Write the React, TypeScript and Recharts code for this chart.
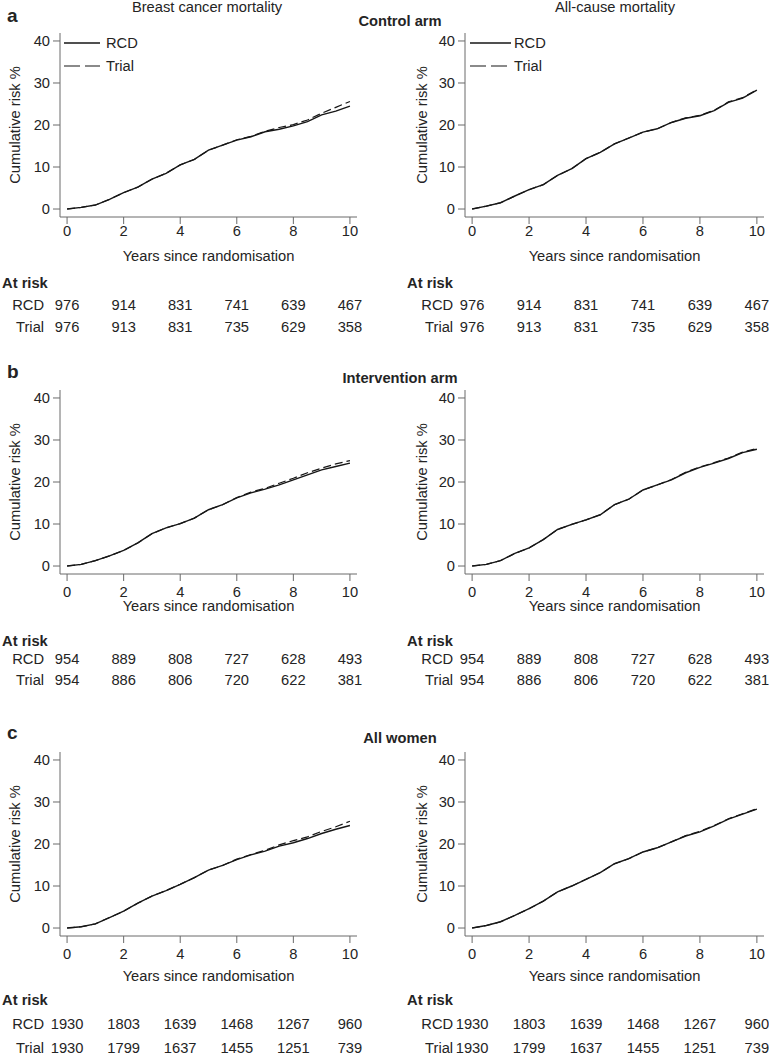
import React from "react";
import { LineChart, Line, XAxis, YAxis, Label } from "recharts";

const FONT = '"Liberation Sans", Arial, Helvetica, sans-serif';
const TEXT = "#242424";
const AXIS = "#6a6a6a";
const LINE = "#161616";
const FS = 14.7;

// time grid (years since randomisation)
const years = [0, 0.5, 1, 1.5, 2, 2.5, 3, 3.5, 4, 4.5, 5, 5.5, 6, 6.5, 7, 7.5, 8, 8.5, 9, 9.5, 10];

// a: Control arm
const ctrlBreastRCD = [0, 0.4, 0.95, 2.3, 3.9, 5.2, 7.1, 8.5, 10.5, 11.8, 14.0, 15.2, 16.4, 17.2, 18.4, 19.0, 19.8, 20.8, 22.4, 23.3, 24.5];
const ctrlBreastTrial = [0, 0.4, 0.95, 2.3, 3.9, 5.2, 7.1, 8.5, 10.5, 11.8, 14.0, 15.2, 16.5, 17.3, 18.5, 19.4, 20.1, 21.2, 22.8, 24.2, 25.6];
const ctrlAllRCD = [0, 0.7, 1.5, 3.1, 4.6, 5.8, 8.0, 9.6, 12.0, 13.5, 15.5, 16.9, 18.3, 19.1, 20.6, 21.6, 22.2, 23.4, 25.4, 26.4, 28.3];
const ctrlAllTrial = [0, 0.7, 1.5, 3.1, 4.6, 5.8, 8.0, 9.6, 12.0, 13.5, 15.5, 16.9, 18.3, 19.1, 20.6, 21.7, 22.3, 23.5, 25.5, 26.5, 28.4];

// b: Intervention arm
const intBreastRCD = [0, 0.4, 1.3, 2.4, 3.7, 5.5, 7.7, 9.1, 10.1, 11.4, 13.4, 14.6, 16.2, 17.4, 18.3, 19.3, 20.5, 21.7, 22.9, 23.7, 24.5];
const intBreastTrial = [0, 0.4, 1.3, 2.4, 3.7, 5.5, 7.7, 9.1, 10.1, 11.4, 13.4, 14.6, 16.3, 17.6, 18.5, 19.7, 20.9, 22.2, 23.3, 24.3, 25.1];
const intAllRCD = [0, 0.4, 1.3, 3.0, 4.3, 6.3, 8.7, 9.9, 11.0, 12.2, 14.6, 15.9, 18.1, 19.3, 20.5, 22.2, 23.5, 24.5, 25.6, 27.0, 27.8];
const intAllTrial = [0, 0.4, 1.3, 3.0, 4.3, 6.3, 8.7, 9.9, 11.0, 12.2, 14.6, 15.9, 18.1, 19.3, 20.6, 22.3, 23.6, 24.6, 25.7, 27.1, 28.0];

// c: All women
const allBreastRCD = [0, 0.3, 1.0, 2.5, 4.0, 5.9, 7.6, 8.9, 10.4, 12.0, 13.8, 14.9, 16.3, 17.4, 18.3, 19.5, 20.3, 21.3, 22.5, 23.5, 24.4];
const allBreastTrial = [0, 0.3, 1.0, 2.5, 4.0, 5.9, 7.6, 8.9, 10.4, 12.0, 13.8, 14.9, 16.4, 17.5, 18.5, 19.8, 20.8, 21.7, 23.0, 24.1, 25.4];
const allAllRCD = [0, 0.6, 1.5, 3.0, 4.6, 6.4, 8.6, 10.0, 11.6, 13.2, 15.3, 16.5, 18.1, 19.1, 20.5, 21.9, 22.9, 24.3, 25.9, 27.1, 28.3];
const allAllTrial = [0, 0.6, 1.5, 3.0, 4.6, 6.4, 8.6, 10.0, 11.6, 13.2, 15.3, 16.5, 18.1, 19.1, 20.5, 22.0, 23.0, 24.4, 26.0, 27.2, 28.4];

// at-risk tables
const atRiskYears = [0, 2, 4, 6, 8, 10];
const ctrlRCDAtRisk = [976, 914, 831, 741, 639, 467];
const ctrlTrialAtRisk = [976, 913, 831, 735, 629, 358];
const intRCDAtRisk = [954, 889, 808, 727, 628, 493];
const intTrialAtRisk = [954, 886, 806, 720, 622, 381];
const allRCDAtRisk = [1930, 1803, 1639, 1468, 1267, 960];
const allTrialAtRisk = [1930, 1799, 1637, 1455, 1251, 739];

const yTicks = [0, 10, 20, 30, 40];

const PLOT_H = 184;

const rows = [
  { chartTop: 0, marginTop: 33, height: 345, tickOff: 14, yearsOff: 39, atRiskOff: 66, rcdOff: 88, trialOff: 110 },
  { chartTop: 350, marginTop: 40, height: 350, tickOff: 18, yearsOff: 32, atRiskOff: 67, rcdOff: 85, trialOff: 106 },
  { chartTop: 705, marginTop: 47, height: 352, tickOff: 18, yearsOff: 40, atRiskOff: 64, rcdOff: 88, trialOff: 112 },
];

const cols = [
  { chartLeft: 0, width: 384, mLeft: 0, mRight: 27, yLabelX: 15, rowLabelGap: 23 },
  { chartLeft: 384, width: 385, mLeft: 21, mRight: 5, yLabelX: 38, rowLabelGap: 19 },
];

function build(rcd: number[], trial: number[]) {
  return years.map((t, i) => ({ t, rcd: rcd[i], trial: trial[i] }));
}

type PanelProps = {
  row: (typeof rows)[number];
  col: (typeof cols)[number];
  rcd: number[];
  trial: number[];
  rcdRisk: number[];
  trialRisk: number[];
};

function Panel({ row, col, rcd, trial, rcdRisk, trialRisk }: PanelProps) {
  const data = build(rcd, trial);
  const base = row.marginTop + PLOT_H;
  const txt = { fontFamily: FONT, fontSize: FS, fill: TEXT };

  const renderTick = (props: any) => {
    const { x, payload } = props;
    const v = payload.value;
    const i = atRiskYears.indexOf(v);
    return (
      <g>
        <text x={x} y={base + row.tickOff} textAnchor="middle" dominantBaseline="central" {...txt}>
          {v}
        </text>
        <text x={x} y={base + row.rcdOff} textAnchor="middle" dominantBaseline="central" {...txt}>
          {rcdRisk[i]}
        </text>
        <text x={x} y={base + row.trialOff} textAnchor="middle" dominantBaseline="central" {...txt}>
          {trialRisk[i]}
        </text>
        {v === 0 && (
          <g>
            <text x={x - 65} y={base + row.atRiskOff} textAnchor="start" dominantBaseline="central" {...txt} fontWeight="bold">
              At risk
            </text>
            <text x={x - col.rowLabelGap} y={base + row.rcdOff} textAnchor="end" dominantBaseline="central" {...txt}>
              RCD
            </text>
            <text x={x - col.rowLabelGap} y={base + row.trialOff} textAnchor="end" dominantBaseline="central" {...txt}>
              Trial
            </text>
          </g>
        )}
      </g>
    );
  };

  const xLabel = (p: any) => {
    const vb = p.viewBox || {};
    const cx = vb.x + vb.width / 2;
    return (
      <text x={cx} y={base + row.yearsOff} textAnchor="middle" dominantBaseline="central" {...txt}>
        Years since randomisation
      </text>
    );
  };

  const yLabel = () => {
    const cy = row.marginTop + PLOT_H / 2;
    return (
      <text
        x={col.yLabelX}
        y={cy}
        textAnchor="middle"
        dominantBaseline="central"
        transform={`rotate(-90, ${col.yLabelX}, ${cy})`}
        {...txt}
      >
        Cumulative risk %
      </text>
    );
  };

  return (
    <div style={{ position: "absolute", left: col.chartLeft, top: row.chartTop }}>
      <LineChart
        width={col.width}
        height={row.height}
        data={data}
        margin={{ top: row.marginTop, right: col.mRight, bottom: 0, left: col.mLeft }}
      >
        <XAxis
          dataKey="t"
          type="number"
          domain={[-0.25, 10.25]}
          ticks={atRiskYears}
          interval={0}
          allowDataOverflow
          height={row.height - row.marginTop - PLOT_H}
          tickSize={7}
          axisLine={{ stroke: AXIS, strokeWidth: 1 }}
          tickLine={{ stroke: AXIS, strokeWidth: 1 }}
          tick={renderTick}
        >
          <Label content={xLabel} />
        </XAxis>
        <YAxis
          type="number"
          domain={[-1.9, 41.9]}
          ticks={yTicks}
          interval={0}
          allowDataOverflow
          width={60}
          tickSize={7}
          tickMargin={3}
          axisLine={{ stroke: AXIS, strokeWidth: 1 }}
          tickLine={{ stroke: AXIS, strokeWidth: 1 }}
          tick={{ fontFamily: FONT, fontSize: FS, fill: TEXT }}
        >
          <Label content={yLabel} />
        </YAxis>
        <Line
          dataKey="trial"
          type="linear"
          stroke={LINE}
          strokeWidth={1.2}
          strokeDasharray="8 4"
          dot={false}
          activeDot={false}
          isAnimationActive={false}
        />
        <Line
          dataKey="rcd"
          type="linear"
          stroke={LINE}
          strokeWidth={1.4}
          dot={false}
          activeDot={false}
          isAnimationActive={false}
        />
      </LineChart>
    </div>
  );
}

function LegendBox({ x0, lineLen, textX }: { x0: number; lineLen: number; textX: number }) {
  return (
    <g>
      <line x1={x0} y1={43} x2={x0 + lineLen} y2={43} stroke={LINE} strokeWidth={1.4} />
      <text x={textX} y={43} dominantBaseline="central" fontFamily={FONT} fontSize={FS} fill={TEXT}>
        RCD
      </text>
      <line x1={x0} y1={66} x2={x0 + lineLen} y2={66} stroke={LINE} strokeWidth={1.2} strokeDasharray="16 5" />
      <text x={textX} y={66} dominantBaseline="central" fontFamily={FONT} fontSize={FS} fill={TEXT}>
        Trial
      </text>
    </g>
  );
}

export default function App() {
  const panels = [
    { r: 0, c: 0, rcd: ctrlBreastRCD, trial: ctrlBreastTrial, rr: ctrlRCDAtRisk, tr: ctrlTrialAtRisk },
    { r: 0, c: 1, rcd: ctrlAllRCD, trial: ctrlAllTrial, rr: ctrlRCDAtRisk, tr: ctrlTrialAtRisk },
    { r: 1, c: 0, rcd: intBreastRCD, trial: intBreastTrial, rr: intRCDAtRisk, tr: intTrialAtRisk },
    { r: 1, c: 1, rcd: intAllRCD, trial: intAllTrial, rr: intRCDAtRisk, tr: intTrialAtRisk },
    { r: 2, c: 0, rcd: allBreastRCD, trial: allBreastTrial, rr: allRCDAtRisk, tr: allTrialAtRisk },
    { r: 2, c: 1, rcd: allAllRCD, trial: allAllTrial, rr: allRCDAtRisk, tr: allTrialAtRisk },
  ];
  const t = { fontFamily: FONT, fill: TEXT };
  return (
    <div style={{ position: "absolute", left: 0, top: 0, width: 769, height: 1057, background: "#fff", overflow: "hidden" }}>
      {panels.map((p, i) => (
        <Panel key={i} row={rows[p.r]} col={cols[p.c]} rcd={p.rcd} trial={p.trial} rcdRisk={p.rr} trialRisk={p.tr} />
      ))}
      <svg width={769} height={1057} style={{ position: "absolute", left: 0, top: 0, pointerEvents: "none" }}>
        <text x={207} y={11.5} textAnchor="middle" fontSize={FS} {...t}>Breast cancer mortality</text>
        <text x={615} y={11.5} textAnchor="middle" fontSize={FS} {...t}>All-cause mortality</text>
        <text x={7} y={22} fontSize={19} fontWeight="bold" {...t}>a</text>
        <text x={400} y={26} textAnchor="middle" fontSize={FS} fontWeight="bold" {...t}>Control arm</text>
        <text x={7} y={378} fontSize={19} fontWeight="bold" {...t}>b</text>
        <text x={400} y={383} textAnchor="middle" fontSize={FS} fontWeight="bold" {...t}>Intervention arm</text>
        <text x={7} y={739} fontSize={19} fontWeight="bold" {...t}>c</text>
        <text x={400} y={743} textAnchor="middle" fontSize={FS} fontWeight="bold" {...t}>All women</text>
        <LegendBox x0={64} lineLen={36} textX={106} />
        <LegendBox x0={470} lineLen={41} textX={514} />
      </svg>
    </div>
  );
}
